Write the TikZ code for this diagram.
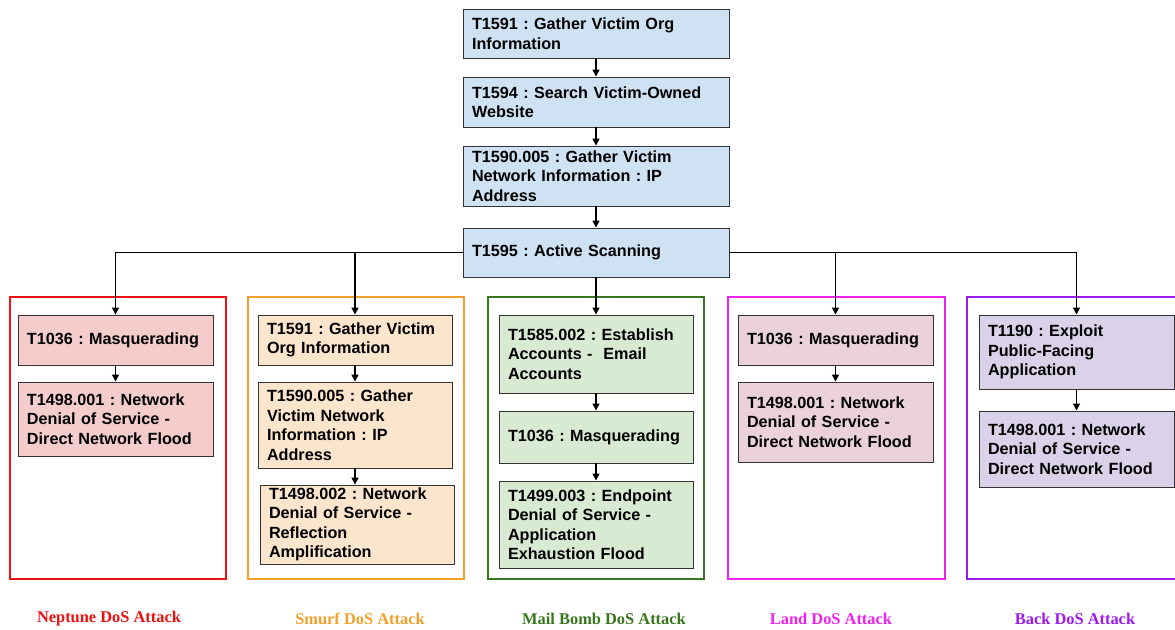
\documentclass[tikz,border=0pt]{standalone}
\usepackage{fontspec}
\setmainfont{Liberation Sans}
\newfontfamily\labelfont{Liberation Serif}
\usetikzlibrary{arrows.meta}
\frenchspacing
\hyphenpenalty=10000
\exhyphenpenalty=10000

\definecolor{blueFill}{HTML}{CFE2F3}
\definecolor{redFill}{HTML}{F4CCCC}
\definecolor{orangeFill}{HTML}{FCE5CD}
\definecolor{greenFill}{HTML}{D9EAD3}
\definecolor{pinkFill}{HTML}{EAD1DC}
\definecolor{purpleFill}{HTML}{D9D2E9}
\definecolor{redLine}{HTML}{EE1111}
\definecolor{orangeLine}{HTML}{F0A02C}
\definecolor{greenLine}{HTML}{38761D}
\definecolor{pinkLine}{HTML}{F020F0}
\definecolor{purpleLine}{HTML}{9A1AEE}

\tikzset{
  tech/.style={draw=black!80, line width=0.9pt, align=left, inner xsep=9pt,
    inner ysep=0pt, font=\bfseries\fontsize{16.2}{19.5}\selectfont},
  group/.style={line width=2.6pt, fill=white, inner sep=0pt},
  grouplabel/.style={font=\labelfont\bfseries\fontsize{16.4}{19}\selectfont},
  link/.style={line width=1.4pt, -{Triangle[length=7pt,width=7pt]}},
}

% technique box from its pixel corners (x1,y1) to (x2,y2)
\newcommand{\techbox}[7]{%
  \node[tech, fill=#6, minimum width={(#4-#2)*1pt}, minimum height={(#5-#3)*1pt},
    text width=\dimexpr #4pt-#2pt-18pt\relax] (#1) at ({(#2+#4)/2},{(#3+#5)/2}) {#7};}
% frame around one attack chain
\newcommand{\groupframe}[6]{%
  \node[group, draw=#6, minimum width={(#4-#2)*1pt}, minimum height={(#5-#3)*1pt}]
    (#1) at ({(#2+#4)/2},{(#3+#5)/2}) {};}

\begin{document}
\begin{tikzpicture}[x=1pt, y=-1pt]
\useasboundingbox (0,0) rectangle (1175,629);
\clip (0,0) rectangle (1175,629);

% attack chain frames
\groupframe{gA}{10}{297}{226}{579}{redLine}
\groupframe{gB}{248}{297}{464}{579}{orangeLine}
\groupframe{gC}{488}{297}{704}{579}{greenLine}
\groupframe{gD}{728}{297}{945}{579}{pinkLine}
\groupframe{gE}{967}{297}{1200}{579}{purpleLine}

% shared reconnaissance chain
\techbox{t1}{463}{9}{729}{58}{blueFill}{T1591 : Gather Victim Org\\Information}
\techbox{t2}{463}{77}{729}{127}{blueFill}{T1594 : Search Victim-Owned\\Website}
\techbox{t3}{463}{146}{729}{206}{blueFill}{T1590.005 : Gather Victim\\Network Information : IP\\Address}
\techbox{t4}{463}{228}{729}{277}{blueFill}{T1595 : Active Scanning}

% Neptune
\techbox{a1}{18}{315}{213}{365}{redFill}{T1036 : Masquerading}
\techbox{a2}{18}{382}{213}{456}{redFill}{T1498.001 : Network\\Denial of Service -\\Direct Network Flood}

% Smurf
\techbox{b1}{258}{315}{452}{365}{orangeFill}{T1591 : Gather Victim\\Org Information}
\techbox{b2}{258}{382}{452}{468}{orangeFill}{T1590.005 : Gather\\Victim Network\\Information : IP\\Address}
\techbox{b3}{260}{485}{454}{564}{orangeFill}{T1498.002 : Network\\Denial of Service -\\Reflection\\Amplification}

% Mail Bomb
\techbox{c1}{499}{315}{693}{393}{greenFill}{T1585.002 : Establish\\Accounts -\ \ Email\\Accounts}
\techbox{c2}{499}{411}{693}{463}{greenFill}{T1036 : Masquerading}
\techbox{c3}{499}{481}{693}{568}{greenFill}{T1499.003 : Endpoint\\Denial of Service -\\Application\\Exhaustion Flood}

% Land
\techbox{d1}{738}{315}{933}{365}{pinkFill}{T1036 : Masquerading}
\techbox{d2}{738}{382}{933}{462}{pinkFill}{T1498.001 : Network\\Denial of Service -\\Direct Network Flood}

% Back
\techbox{e1}{979}{315}{1174}{389}{purpleFill}{T1190 : Exploit\\Public-Facing\\Application}
\techbox{e2}{979}{411}{1174}{487}{purpleFill}{T1498.001 : Network\\Denial of Service -\\Direct Network Flood}

% chain labels
\node[grouplabel, text=redLine] (lA) at (109,619) {Neptune DoS Attack};
\node[grouplabel, text=orangeLine] (lB) at (360,619) {Smurf DoS Attack};
\node[grouplabel, text=greenLine] (lC) at (604,619) {Mail Bomb DoS Attack};
\node[grouplabel, text=pinkLine] (lD) at (831,619) {Land DoS Attack};
\node[grouplabel, text=purpleLine] (lE) at (1075,619) {Back DoS Attack};

% reconnaissance arrows
\draw[link] (t1.south) -- (t1.south |- t2.north);
\draw[link] (t2.south) -- (t2.south |- t3.north);
\draw[link] (t3.south) -- (t3.south |- t4.north);

% fan-out from active scanning
\draw[link] (t4.west) -| (a1.north);
\draw[link] (t4.west) -| (b1.north);
\draw[link] (t4.south) -- (t4.south |- c1.north);
\draw[link] (t4.east) -| (d1.north);
\draw[link] (t4.east) -| (e1.north);

% arrows inside each chain
\draw[link] (a1.south) -- (a1.south |- a2.north);
\draw[link] (b1.south) -- (b1.south |- b2.north);
\draw[link] (b2.south) -- (b2.south |- b3.north);
\draw[link] (c1.south) -- (c1.south |- c2.north);
\draw[link] (c2.south) -- (c2.south |- c3.north);
\draw[link] (d1.south) -- (d1.south |- d2.north);
\draw[link] (e1.south) -- (e1.south |- e2.north);
\end{tikzpicture}
\end{document}
